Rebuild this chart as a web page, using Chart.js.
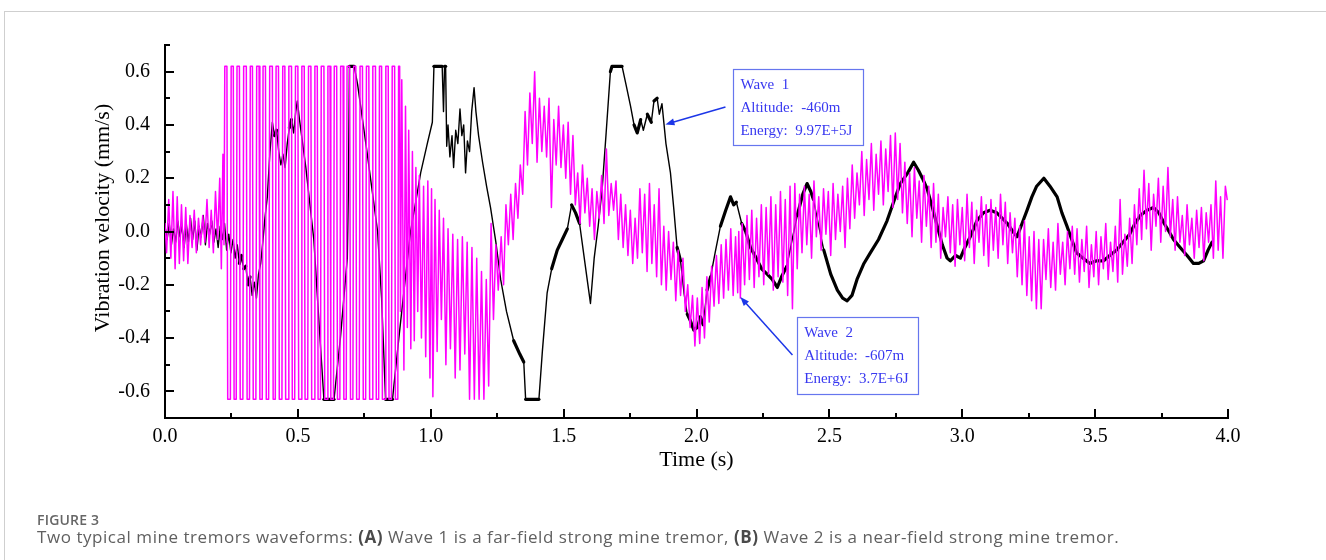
<!DOCTYPE html>
<html>
<head>
<meta charset="utf-8">
<script src="https://cdn.jsdelivr.net/npm/chart.js@4.4.1/dist/chart.umd.min.js"></script>
<style>
  html, body { margin: 0; padding: 0; background: #fff; width: 1326px; height: 560px; overflow: hidden; }
  #frame { position: absolute; left: 4px; top: 11px; right: 0; bottom: 0;
           border-top: 1px solid #cfcfcf; border-left: 1px solid #cfcfcf; }
  #chart { position: absolute; left: 0; top: 0; }
  .fig { position: absolute; left: 37px; top: 511px; font-family: 'Open Sans', sans-serif;
         font-size: 14px; font-weight: 600; line-height: 18px; letter-spacing: 0.2px; color: #666; }
  .text { position: absolute; left: 37px; top: 526px; font-family: 'Open Sans', sans-serif;
          font-size: 17px; line-height: 22px; letter-spacing: 0.55px; color: #606060; white-space: nowrap; }
  .text b { font-weight: 700; color: #4a4a4a; }
</style>
</head>
<body>
<div id="frame"></div>
<canvas id="chart" width="1326" height="560"></canvas>
<div class="fig">FIGURE 3</div>
<div class="text">Two typical mine tremors waveforms: <b>(A)</b> Wave 1 is a far-field strong mine tremor, <b>(B)</b> Wave 2 is a near-field strong mine tremor.</div>
<script>
// Tick labels
const timeTicks = [0.0, 0.5, 1.0, 1.5, 2.0, 2.5, 3.0, 3.5, 4.0];
const velocityTicks = [-0.6, -0.4, -0.2, 0.0, 0.2, 0.4, 0.6];

// Wave 1 (far-field tremor): [time s, velocity mm/s]
const wave1Onset = [
  [0.000,0.02],[0.008,-0.03],[0.016,0.03],[0.024,-0.05],[0.032,0.01],[0.040,-0.04],[0.048,0.04],[0.056,-0.02],
  [0.064,0.02],[0.072,-0.06],[0.080,0.03],[0.088,-0.04],[0.096,0.05],[0.104,-0.03],[0.112,0.04],[0.120,-0.07],
  [0.128,0.02],[0.136,-0.02],[0.144,0.06],[0.152,-0.05],[0.160,0.03],[0.168,-0.01],[0.176,0.04],[0.184,-0.04],
  [0.192,0.01],[0.200,-0.06],[0.208,0.02],[0.216,-0.03],[0.224,0.03],[0.232,-0.07],[0.240,-0.01],[0.248,-0.08],
  [0.256,-0.03],[0.264,-0.10],[0.272,-0.05],[0.280,-0.12],[0.288,-0.09],[0.296,-0.14],[0.304,-0.13],[0.312,-0.20],
  [0.320,-0.17],[0.328,-0.24],[0.336,-0.19],[0.344,-0.25],[0.352,-0.16],[0.360,-0.12]
];
const wave1Strong = [
  [0.368,-0.04],[0.376,0.05],[0.385,0.13],[0.395,0.30],[0.404,0.41],[0.412,0.36],[0.420,0.38],[0.428,0.30],
  [0.436,0.25],[0.444,0.29],[0.452,0.24],[0.460,0.33],[0.468,0.39],[0.476,0.42],[0.484,0.37],[0.492,0.45],
  [0.498,0.49],[0.506,0.42],[0.530,0.24],[0.560,-0.03],[0.580,-0.35],[0.598,-0.63],[0.636,-0.63],[0.660,-0.40],
  [0.686,-0.10],[0.690,0.15],[0.694,0.62],[0.712,0.62],[0.725,0.55],[0.760,0.30],[0.800,0.00],[0.815,-0.25],
  [0.830,-0.63],[0.856,-0.63],[0.880,-0.40],[0.905,-0.17],[0.924,0.00],[0.945,0.12],[0.962,0.22],[0.987,0.33],
  [1.006,0.41],[1.012,0.62],[1.043,0.62],[1.048,0.45],[1.052,0.62],[1.056,0.62],[1.060,0.32],[1.065,0.40],
  [1.072,0.28],[1.080,0.36],[1.086,0.24],[1.094,0.38],[1.102,0.33],[1.110,0.46],[1.117,0.36],[1.124,0.40],
  [1.131,0.22],[1.138,0.34],[1.146,0.30],[1.154,0.45],[1.163,0.54],[1.170,0.45],[1.180,0.36],[1.195,0.26],
  [1.210,0.17],[1.225,0.09],[1.245,-0.04],[1.263,-0.18],[1.285,-0.30],[1.312,-0.41],[1.335,-0.46],[1.350,-0.49],
  [1.357,-0.63],[1.407,-0.63],[1.420,-0.45],[1.438,-0.23],[1.455,-0.14],[1.476,-0.07],[1.495,-0.03],[1.514,0.01],
  [1.530,0.10],[1.545,0.07],[1.560,0.03],[1.575,-0.08],[1.590,-0.19],[1.601,-0.27],[1.615,-0.10],[1.630,0.02],
  [1.645,0.16],[1.660,0.37],[1.676,0.60],[1.682,0.62],[1.720,0.62],[1.735,0.55],[1.752,0.47],[1.765,0.40],
  [1.777,0.37],[1.790,0.42],[1.800,0.38],[1.815,0.44],[1.830,0.41],[1.840,0.49],[1.852,0.50],[1.860,0.44],
  [1.870,0.48],[1.878,0.40],[1.885,0.33]
];
const wave1Coda = [
  [1.902,0.22],[1.915,0.08],[1.927,-0.06],[1.940,-0.11],[1.953,-0.23],[1.965,-0.31],[1.975,-0.33],[1.990,-0.37],
  [2.003,-0.36],[2.015,-0.32],[2.025,-0.35],[2.040,-0.22],[2.053,-0.17],[2.070,-0.08],[2.090,0.02],[2.110,0.08],
  [2.128,0.13],[2.140,0.10],[2.150,0.11],[2.170,0.03],[2.185,0.00],[2.203,-0.06],[2.225,-0.10],[2.245,-0.14],
  [2.266,-0.16],[2.285,-0.18],[2.304,-0.21],[2.320,-0.17],[2.340,-0.13],[2.360,-0.03],[2.379,0.06],[2.400,0.14],
  [2.416,0.18],[2.430,0.15],[2.440,0.12],[2.460,0.02],[2.479,-0.07],[2.505,-0.16],[2.530,-0.22],[2.550,-0.25],
  [2.567,-0.26],[2.585,-0.24],[2.604,-0.18],[2.630,-0.12],[2.654,-0.08],[2.685,-0.03],[2.717,0.04],[2.745,0.12],
  [2.767,0.18],[2.795,0.22],[2.817,0.26],[2.835,0.23],[2.850,0.20],[2.868,0.16],[2.890,0.08],[2.906,0.02],
  [2.925,-0.05],[2.943,-0.10],[2.955,-0.11],[2.975,-0.09],[2.993,-0.10],[3.010,-0.06],[3.030,-0.02],[3.055,0.04],
  [3.080,0.07],[3.105,0.08],[3.130,0.07],[3.150,0.05],[3.170,0.03],[3.190,0.00],[3.206,-0.02],[3.225,0.03],
  [3.244,0.08],[3.262,0.13],[3.280,0.17],[3.307,0.20],[3.330,0.17],[3.357,0.13],[3.375,0.07],[3.394,0.02],
  [3.412,-0.03],[3.430,-0.08],[3.455,-0.10],[3.480,-0.12],[3.505,-0.11],[3.532,-0.11],[3.555,-0.09],[3.580,-0.07],
  [3.605,-0.04],[3.630,-0.01],[3.650,0.03],[3.670,0.06],[3.695,0.08],[3.720,0.09],[3.740,0.07],[3.760,0.03],
  [3.778,0.00],[3.795,-0.03],[3.820,-0.06],[3.846,-0.09],[3.870,-0.12],[3.890,-0.12],[3.908,-0.11],[3.925,-0.07],
  [3.940,-0.04]
];

// Wave 2 (near-field tremor): [time s, velocity mm/s]
const wave2Onset = [
  [0.000,0.03],[0.006,-0.08],[0.014,0.12],[0.022,-0.10],[0.030,0.15],[0.038,-0.14],[0.046,0.13],[0.054,-0.12],
  [0.062,0.10],[0.070,-0.11],[0.078,0.09],[0.086,-0.12],[0.094,0.06],[0.102,-0.06],[0.110,0.08],[0.118,-0.08],
  [0.126,0.05],[0.134,-0.05],[0.142,0.06],[0.150,-0.04],[0.158,0.12],[0.166,-0.06],[0.174,0.08],[0.182,-0.08],
  [0.190,0.15],[0.198,-0.03],[0.206,0.20],[0.212,-0.14],[0.218,0.29],[0.222,-0.05]
];
const wave2Strong = [
  [0.225,0.62],[0.233,0.62],[0.236,-0.63],[0.246,-0.63],
  [0.249,0.62],[0.257,0.62],[0.260,-0.63],[0.268,-0.63],
  [0.271,0.62],[0.280,0.62],[0.283,-0.63],[0.293,-0.63],
  [0.296,0.62],[0.306,0.62],[0.309,-0.63],[0.318,-0.63],
  [0.321,0.62],[0.329,0.62],[0.332,-0.63],[0.342,-0.63],
  [0.345,0.62],[0.354,0.62],[0.357,-0.63],[0.366,-0.63],
  [0.369,0.62],[0.378,0.62],[0.381,-0.63],[0.390,-0.63],
  [0.394,0.62],[0.404,0.62],[0.407,-0.63],[0.415,-0.63],
  [0.418,0.62],[0.427,0.62],[0.430,-0.63],[0.440,-0.63],
  [0.443,0.62],[0.451,0.62],[0.454,-0.63],[0.463,-0.63],
  [0.466,0.62],[0.476,0.62],[0.479,-0.63],[0.488,-0.63],
  [0.491,0.62],[0.500,0.62],[0.503,-0.63],[0.512,-0.63],
  [0.515,0.62],[0.524,0.62],[0.527,-0.63],[0.537,-0.63],
  [0.540,0.62],[0.549,0.62],[0.552,-0.63],[0.561,-0.63],
  [0.564,0.62],[0.573,0.62],[0.576,-0.63],[0.585,-0.63],
  [0.588,0.62],[0.598,0.62],[0.601,-0.63],[0.610,-0.63],
  [0.613,0.62],[0.621,0.62],[0.624,-0.63],[0.634,-0.63],
  [0.637,0.62],[0.646,0.62],[0.649,-0.63],[0.658,-0.63],
  [0.661,0.62],[0.670,0.62],[0.673,-0.63],[0.682,-0.63],
  [0.685,0.62],[0.695,0.62],[0.698,-0.63],[0.707,-0.63],
  [0.710,0.62],[0.718,0.62],[0.721,-0.63],[0.731,-0.63],
  [0.734,0.62],[0.743,0.62],[0.746,-0.63],[0.755,-0.63],
  [0.758,0.62],[0.767,0.62],[0.770,-0.63],[0.779,-0.63],
  [0.782,0.62],[0.792,0.62],[0.795,-0.63],[0.804,-0.63],
  [0.807,0.62],[0.815,0.62],[0.818,-0.63],[0.828,-0.63],
  [0.831,0.62],[0.840,0.62],[0.843,-0.63],[0.852,-0.63],
  [0.855,0.62],[0.864,0.62],[0.867,-0.63],[0.876,-0.63],
  [0.879,0.62],[0.883,0.62]
];
const wave2Decay = [
  [0.886,-0.30],[0.891,0.57],[0.899,-0.52],[0.905,0.47],[0.912,-0.36],[0.917,0.38],[0.925,-0.44],[0.931,0.30],
  [0.938,-0.41],[0.944,0.24],[0.951,-0.30],[0.957,0.21],[0.965,-0.40],[0.973,0.17],[0.981,-0.47],[0.989,0.19],
  [0.997,-0.55],[1.003,0.16],[1.008,-0.62],[1.016,0.12],[1.024,-0.45],[1.032,0.08],[1.040,-0.33],[1.048,0.05],
  [1.057,-0.50],[1.065,0.01],[1.074,-0.44],[1.083,-0.01],[1.092,-0.55],[1.101,-0.03],[1.110,-0.52],[1.119,-0.02],
  [1.128,-0.46],[1.137,-0.04],[1.146,-0.63],[1.155,-0.06],[1.164,-0.63],[1.173,-0.10],[1.182,-0.63],[1.191,-0.15],
  [1.200,-0.63],[1.209,-0.18],[1.218,-0.58],[1.227,0.03],[1.236,-0.33],[1.245,-0.05],[1.254,-0.22],[1.265,-0.02],
  [1.274,-0.20],[1.283,0.10],[1.292,-0.05],[1.301,0.14],[1.310,-0.03],[1.319,0.18],[1.328,0.05],[1.337,0.25],
  [1.346,0.14],[1.355,0.45],[1.364,0.25],[1.373,0.52],[1.382,0.33],[1.391,0.60],[1.400,0.26],[1.409,0.50],
  [1.418,0.30],[1.427,0.47],[1.436,0.28],[1.445,0.50],[1.454,0.09],[1.463,0.42],[1.472,0.25],[1.481,0.47],
  [1.490,0.24],[1.499,0.40],[1.508,0.20],[1.517,0.41],[1.526,0.14],[1.535,0.36],[1.544,0.10],[1.553,0.22],
  [1.562,0.03],[1.571,0.25],[1.580,0.07],[1.589,0.20],[1.598,0.02],[1.607,0.16],[1.616,-0.03],[1.625,0.15],
  [1.634,0.05],[1.643,0.21],[1.652,0.03],[1.661,0.31],[1.670,0.06],[1.679,0.18],[1.688,0.08],[1.697,0.19]
];
const wave2Coda = [
  [1.706,-0.03],[1.715,0.14],[1.724,-0.06],[1.733,0.10],[1.742,-0.09],[1.751,0.08],[1.760,-0.12],[1.769,0.05],
  [1.778,-0.10],[1.787,0.16],[1.796,-0.08],[1.805,0.14],[1.814,-0.15],[1.823,0.18],[1.832,-0.12],[1.841,0.10],
  [1.850,-0.17],[1.859,0.16],[1.868,-0.20],[1.877,0.02],[1.886,-0.22],[1.895,0.00],[1.904,-0.18],[1.913,-0.04],
  [1.922,-0.26],[1.931,-0.07],[1.940,-0.24],[1.949,-0.10],[1.958,-0.30],[1.967,-0.20],[1.976,-0.36],[1.985,-0.24],
  [1.994,-0.43],[2.003,-0.25],[2.012,-0.42],[2.021,-0.21],[2.030,-0.40],[2.039,-0.17],[2.048,-0.34],[2.057,-0.13],
  [2.066,-0.28],[2.075,-0.09],[2.084,-0.27],[2.093,-0.05],[2.102,-0.25],[2.111,-0.03],[2.120,-0.22],[2.129,0.01],
  [2.138,-0.24],[2.147,-0.02],[2.155,-0.23],[2.159,0.00],[2.165,-0.25],[2.172,0.03],[2.181,-0.20],[2.190,0.06],
  [2.199,-0.18],[2.208,0.08],[2.217,-0.21],[2.226,0.05],[2.235,-0.17],[2.244,0.10],[2.253,-0.20],[2.262,0.09],
  [2.271,-0.16],[2.280,0.13],[2.289,-0.22],[2.298,0.10],[2.307,-0.17],[2.316,0.15],[2.325,-0.19],[2.334,0.12],
  [2.343,-0.24],[2.352,0.17],[2.361,-0.29],[2.370,0.18],[2.379,-0.14],[2.388,0.14],[2.397,-0.08],[2.406,0.17],
  [2.415,-0.05],[2.424,0.14],[2.433,-0.10],[2.442,0.19],[2.451,-0.02],[2.460,0.13],[2.469,-0.07],[2.478,0.16],
  [2.487,-0.01],[2.496,0.15],[2.505,-0.09],[2.514,0.18],[2.523,-0.03],[2.532,0.14],[2.541,0.00],[2.550,0.17],
  [2.559,-0.06],[2.568,0.20],[2.577,0.01],[2.586,0.25],[2.595,0.05],[2.604,0.22],[2.613,0.10],[2.622,0.30],
  [2.631,0.06],[2.640,0.27],[2.649,0.12],[2.658,0.33],[2.667,0.08],[2.676,0.29],[2.685,0.14],[2.694,0.34],
  [2.703,0.10],[2.712,0.31],[2.721,0.15],[2.730,0.36],[2.739,0.09],[2.748,0.37],[2.757,0.12],[2.766,0.33],
  [2.775,0.07],[2.784,0.26],[2.793,0.03],[2.802,0.22],[2.811,-0.02],[2.820,0.24],[2.829,0.05],[2.838,0.19],
  [2.847,-0.04],[2.856,0.21],[2.865,0.02],[2.874,0.17],[2.883,-0.06],[2.892,0.18],[2.901,-0.04],[2.910,0.14],
  [2.919,-0.10],[2.928,0.09],[2.937,-0.02],[2.946,0.13],[2.955,-0.08],[2.964,0.10],[2.973,-0.13],[2.982,0.12],
  [2.991,-0.05],[3.000,0.09],[3.009,-0.11],[3.018,0.14],[3.027,-0.06],[3.036,0.11],[3.045,-0.12],[3.054,0.08],
  [3.063,-0.04],[3.072,0.13],[3.081,-0.09],[3.090,0.10],[3.099,-0.13],[3.108,0.12],[3.117,-0.07],[3.126,0.09],
  [3.135,-0.10],[3.144,0.14],[3.153,-0.05],[3.162,0.11],[3.171,-0.12],[3.180,0.07],[3.189,-0.08],[3.198,0.05],
  [3.207,-0.17],[3.216,0.02],[3.225,-0.20],[3.234,0.04],[3.243,-0.24],[3.252,-0.02],[3.261,-0.26],[3.270,0.00],
  [3.279,-0.29],[3.288,-0.03],[3.297,-0.29],[3.306,-0.03],[3.315,-0.18],[3.324,0.01],[3.333,-0.21],[3.342,-0.04],
  [3.351,-0.22],[3.360,0.03],[3.369,-0.16],[3.378,-0.04],[3.387,-0.20],[3.396,0.00],[3.405,-0.14],[3.414,0.02],
  [3.423,-0.16],[3.432,0.01],[3.441,-0.19],[3.450,-0.03],[3.459,-0.15],[3.468,0.02],[3.477,-0.21],[3.486,-0.05],
  [3.495,-0.17],[3.504,0.00],[3.513,-0.20],[3.522,-0.02],[3.531,-0.14],[3.540,0.03],[3.549,-0.18],[3.558,-0.04],
  [3.567,-0.15],[3.576,0.02],[3.585,-0.19],[3.594,0.12],[3.603,-0.16],[3.612,-0.01],[3.621,-0.13],[3.630,0.05],
  [3.639,-0.12],[3.648,0.10],[3.657,-0.05],[3.666,0.16],[3.675,-0.03],[3.684,0.23],[3.693,0.01],[3.702,0.18],
  [3.711,-0.07],[3.720,0.14],[3.729,0.02],[3.738,0.20],[3.747,-0.04],[3.756,0.17],[3.765,0.00],[3.774,0.24],
  [3.783,-0.02],[3.792,0.12],[3.801,-0.07],[3.810,0.13],[3.819,-0.04],[3.828,0.06],[3.837,-0.09],[3.846,0.10],
  [3.855,-0.05],[3.864,0.05],[3.873,-0.10],[3.882,0.08],[3.891,-0.06],[3.900,0.09],[3.909,-0.11],[3.918,0.07],
  [3.927,-0.04],[3.936,0.10],[3.945,-0.10],[3.954,0.19],[3.963,-0.07],[3.972,0.13],[3.981,-0.10],[3.990,0.17],
  [3.997,0.12]
];

// Callout boxes, placed in data units
const callouts = [
  { lines: ['Wave  1', 'Altitude:  -460m', 'Energy:  9.97E+5J'],
    box: [2.139, 0.609, 2.629, 0.3225], from: [2.109, 0.467], to: [1.883, 0.402] },
  { lines: ['Wave  2', 'Altitude:  -607m', 'Energy:  3.7E+6J'],
    box: [2.379, -0.320, 2.836, -0.608], from: [2.361, -0.464], to: [2.165, -0.246] }
];

const toXY = rows => rows.map(([x, y]) => ({ x, y }));
const wave1 = toXY([...wave1Onset, ...wave1Strong, ...wave1Coda]);
const wave2 = toXY([...wave2Onset, ...wave2Strong, ...wave2Decay, ...wave2Coda]);
const inList = (list, v) => list.some(m => Math.abs(m - v) < 1e-6);

function drawCallout(ctx, xs, ys, c) {
  const x0 = xs.getPixelForValue(c.box[0]), y0 = ys.getPixelForValue(c.box[1]);
  const x1 = xs.getPixelForValue(c.box[2]), y1 = ys.getPixelForValue(c.box[3]);
  ctx.save();
  ctx.fillStyle = '#fff';
  ctx.fillRect(x0, y0, x1 - x0, y1 - y0);
  ctx.strokeStyle = '#6676ee';
  ctx.lineWidth = 1.2;
  ctx.strokeRect(Math.round(x0) + 0.5, Math.round(y0) + 0.5, Math.round(x1 - x0), Math.round(y1 - y0));
  ctx.fillStyle = '#3838f0';
  ctx.font = '15px "Liberation Serif"';
  ctx.textAlign = 'left';
  ctx.textBaseline = 'middle';
  c.lines.forEach((s, i) => ctx.fillText(s, x0 + 7, y0 + 16 + i * 23));
  const fx = xs.getPixelForValue(c.from[0]), fy = ys.getPixelForValue(c.from[1]);
  const tx = xs.getPixelForValue(c.to[0]), ty = ys.getPixelForValue(c.to[1]);
  const ang = Math.atan2(ty - fy, tx - fx);
  ctx.strokeStyle = '#1c36e8';
  ctx.fillStyle = '#1c36e8';
  ctx.lineWidth = 1.5;
  ctx.beginPath();
  ctx.moveTo(fx, fy);
  ctx.lineTo(tx - 6 * Math.cos(ang), ty - 6 * Math.sin(ang));
  ctx.stroke();
  ctx.beginPath();
  ctx.moveTo(tx, ty);
  ctx.lineTo(tx - 9 * Math.cos(ang) + 3.5 * Math.sin(ang), ty - 9 * Math.sin(ang) - 3.5 * Math.cos(ang));
  ctx.lineTo(tx - 9 * Math.cos(ang) - 3.5 * Math.sin(ang), ty - 9 * Math.sin(ang) + 3.5 * Math.cos(ang));
  ctx.closePath();
  ctx.fill();
  ctx.restore();
}

// Inward tick marks, axis titles and callouts
const decor = {
  id: 'decor',
  afterDraw(chart) {
    const { ctx, chartArea: a, scales: { x, y } } = chart;
    ctx.save();
    ctx.strokeStyle = '#000';
    ctx.lineWidth = 2;
    ctx.beginPath();
    x.ticks.forEach(t => {
      const px = Math.round(x.getPixelForValue(t.value));
      const len = inList(timeTicks, t.value) ? 9 : 5;
      ctx.moveTo(px, a.bottom);
      ctx.lineTo(px, a.bottom - len);
    });
    y.ticks.forEach(t => {
      const py = Math.round(y.getPixelForValue(t.value));
      const len = inList(velocityTicks, t.value) ? 9 : 5;
      ctx.moveTo(a.left, py);
      ctx.lineTo(a.left + len, py);
    });
    ctx.stroke();
    ctx.fillStyle = '#000';
    ctx.font = '22px "Liberation Serif"';
    ctx.textAlign = 'center';
    ctx.textBaseline = 'middle';
    ctx.fillText('Time (s)', (a.left + a.right) / 2, a.bottom + 42);
    ctx.translate(103, 218);
    ctx.rotate(-Math.PI / 2);
    ctx.fillText('Vibration velocity (mm/s)', 0, 0);
    ctx.restore();
    callouts.forEach(c => drawCallout(ctx, x, y, c));
  }
};

new Chart(document.getElementById('chart'), {
  type: 'line',
  data: {
    datasets: [
      { label: 'Wave 2', data: wave2, order: 0, borderColor: '#ff00ff', borderWidth: 1.5,
        pointRadius: 0, tension: 0, borderJoinStyle: 'round', borderCapStyle: 'round' },
      { label: 'Wave 1', data: wave1, order: 1, borderColor: '#000', borderWidth: 1.5,
        pointRadius: 0, tension: 0, borderJoinStyle: 'round', borderCapStyle: 'round',
        segment: {
          borderWidth: c => {
            const dx = Math.abs(c.p1.x - c.p0.x), dy = Math.abs(c.p1.y - c.p0.y);
            return dy > 4 * dx ? 1.4 : 3.2;
          }
        } }
    ]
  },
  options: {
    responsive: false,
    animation: false,
    events: [],
    layout: { padding: { left: 0, top: 45, right: 98, bottom: 0 } },
    plugins: { legend: { display: false }, tooltip: { enabled: false } },
    scales: {
      x: {
        type: 'linear', min: 0, max: 4,
        grid: { display: false },
        border: { display: true, color: '#000', width: 2 },
        ticks: {
          stepSize: 0.25, autoSkip: false, maxRotation: 0, padding: -1, color: '#000',
          font: { family: 'Liberation Serif', size: 20 },
          callback: v => inList(timeTicks, v) ? v.toFixed(1) : ''
        },
        afterFit: s => { s.height = 142; }
      },
      y: {
        type: 'linear', min: -0.7, max: 0.7,
        grid: { display: false },
        border: { display: true, color: '#000', width: 2 },
        ticks: {
          stepSize: 0.1, autoSkip: false, padding: 7, color: '#000',
          font: { family: 'Liberation Serif', size: 20 },
          callback: v => inList(velocityTicks, v) ? (Math.abs(v) < 1e-9 ? 0 : v).toFixed(1) : ''
        },
        afterFit: s => { s.width = 165; }
      }
    }
  },
  plugins: [decor]
});
</script>
</body>
</html>
